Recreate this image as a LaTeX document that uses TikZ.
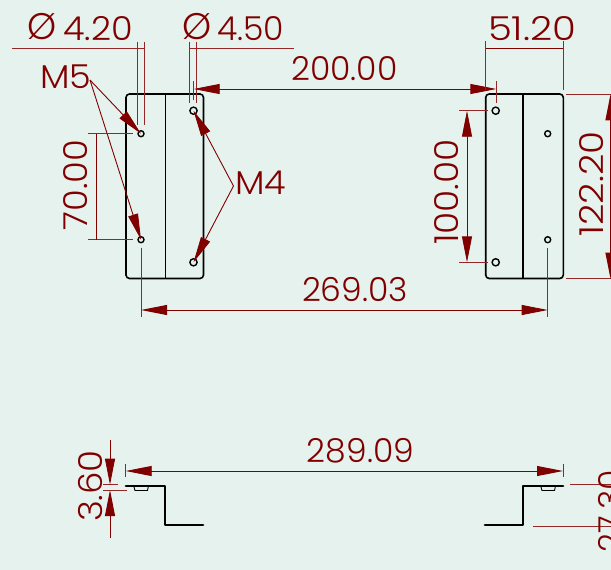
\documentclass[tikz,border=0pt]{standalone}
\usepackage{fontspec}
\usetikzlibrary{arrows.meta}
\setmainfont{Poppins}[UprightFont=* Light]
\definecolor{dimred}{HTML}{800000}
\definecolor{sheetbg}{HTML}{E6F2EE}
\tikzset{
  plate/.style={black, line width=1.6pt, rounded corners=3.5pt},
  profile/.style={black, line width=2.8pt, line join=round, line cap=round},
  hole/.style={black, line width=1.4pt},
  dimline/.style={dimred, line width=0.9pt},
  extline/.style={dimred!85, line width=0.9pt},
  twotip/.style={dimline, {Triangle[length=26pt,width=10pt]}-{Triangle[length=26pt,width=10pt]}},
  leader/.style={dimline, -{Triangle[length=26pt,width=10pt]}},
  dimtext/.style={dimred, font=\fontsize{33}{33}\selectfont, inner sep=0pt},
}

\begin{document}
\begin{tikzpicture}[x=1pt,y=-1pt]
  \clip (0,0) rectangle (611,570);
  \fill[sheetbg] (0,0) rectangle (611,570);

  % Hole centres
  \coordinate (m5a) at (141,133.7);
  \coordinate (m5b) at (141,239.7);
  \coordinate (m4a) at (193.5,110.7);
  \coordinate (m4b) at (193.5,262.3);
  \coordinate (r4a) at (495.7,110.7);
  \coordinate (r4b) at (495.7,262.3);
  \coordinate (r5a) at (547.7,133.7);
  \coordinate (r5b) at (547.7,239.7);

  % Plates
  \draw[plate] (126,94) rectangle (203.5,278.5);
  \draw[plate] (485.7,94) rectangle (563.3,278.5);
  \draw[black, line width=1.6pt] (165.5,94) -- (165.5,278.5);
  \draw[black, line width=1.6pt] (523,94) -- (523,278.5);
  \foreach \h in {m5a,m5b,r5a,r5b}
    \draw[hole] (\h) circle (3pt);
  \foreach \h in {m4a,m4b,r4a,r4b}
    \draw[hole] (\h) circle (3.6pt);

  % Side views
  \draw[profile] (126,486) -- (165,486) -- (165,525) -- (203,525);
  \draw[profile] (563,486) -- (523,486) -- (523,525) -- (485,525);
  \draw[black, line width=0.9pt] (134,487) -- (135,490.5) -- (147.5,490.5) -- (148.3,487);
  \draw[black, line width=0.9pt] (541,487) -- (542,490.5) -- (554.5,490.5) -- (555.3,487);

  % Diameters
  \draw[extline] (12,48.5) -- (144.3,48.5);
  \draw[extline] (137.7,41.5) -- (137.7,125);
  \draw[extline] (144.3,41.5) -- (144.3,125);
  \draw[extline] (189.7,48.5) -- (294,48.5);
  \draw[extline] (189.7,41.5) -- (189.7,103);
  \draw[extline] (196.7,41.5) -- (196.7,103);
  \node[dimtext, font=\fontsize{37}{37}\selectfont] (phia) at (42.5,27) {Ø};
  \node[dimtext, anchor=base west, xscale=1.06] (dia) at (63,41) {4.20};
  \node[dimtext, font=\fontsize{37}{37}\selectfont] (phib) at (196.7,27) {Ø};
  \node[dimtext, anchor=base west] (dib) at (217,41) {4.50};

  % Thread callouts
  \node[dimtext, anchor=base west, xscale=1.06] (mfive) at (40,88) {M5};
  \node[dimtext, anchor=base west, xscale=1.06] (mfour) at (235,194) {M4};
  \coordinate (mfivept) at (90,80);
  \coordinate (mfourpt) at (233.5,186);
  \draw[leader] (mfivept) -- (m5a);
  \draw[leader] (mfivept) -- (m5b);
  \draw[leader] (mfourpt) -- (m4a);
  \draw[leader] (mfourpt) -- (m4b);

  % Top view dimensions
  \draw[extline] (88,133.7) -- (133,133.7);
  \draw[extline] (88,239.7) -- (133,239.7);
  \draw[dimline] (96,133.7) -- (96,239.7);
  \node[dimtext, rotate=90, xscale=1.07] (seventy) at (76,185) {70.00};

  \draw[extline] (193.7,81) -- (193.7,100);
  \draw[extline] (496.3,81) -- (496.3,103);
  \draw[twotip] (193.7,89) -- (496.3,89);
  \node[dimtext] (twohundred) at (344.5,69) {200.00};

  \draw[extline] (485.7,41) -- (485.7,90);
  \draw[extline] (563,41) -- (563,90);
  \draw[dimline] (485.7,48.5) -- (563,48.5);
  \node[dimtext, xscale=1.17] (fiftyone) at (532,29) {51.20};

  \draw[extline] (459,110.7) -- (488,110.7);
  \draw[extline] (459,262.3) -- (488,262.3);
  \draw[twotip] (467,110.7) -- (467,262.3);
  \node[dimtext, rotate=90, xscale=1.09] (hundred) at (447,192) {100.00};

  \draw[extline] (566,94.3) -- (611,94.3);
  \draw[extline] (566,278.7) -- (611,278.7);
  \draw[twotip] (610.5,94.3) -- (610.5,278.7);
  \node[dimtext, rotate=90, xscale=1.13] (widthr) at (591.5,184) {122.20};

  \draw[extline] (141,247.7) -- (141,316.7);
  \draw[extline] (547.7,247.7) -- (547.7,316.7);
  \draw[twotip] (141,310) -- (547.7,310);
  \node[dimtext] (overall) at (355,290) {269.03};

  % Side view dimensions
  \draw[extline] (125.7,464) -- (125.7,477);
  \draw[extline] (563,464) -- (563,477);
  \draw[twotip] (125.7,471) -- (563,471);
  \node[dimtext] (length) at (360.5,451) {289.09};

  \draw[extline] (103,484.7) -- (118,484.7);
  \draw[extline] (103,490) -- (127,490);
  \draw[dimline, -{Triangle[length=26pt,width=10pt]}] (110,440) -- (110,484.7);
  \draw[dimline, -{Triangle[length=26pt,width=10pt]}] (110,538) -- (110,490);
  \node[dimtext, rotate=90, xscale=1.08] (thick) at (90.5,486) {3.60};

  \draw[extline] (570,484.7) -- (611,484.7);
  \draw[extline] (533,526) -- (611,526);
  \node[dimtext, rotate=90] (height) at (610.5,511) {27.30};
\end{tikzpicture}
\end{document}
